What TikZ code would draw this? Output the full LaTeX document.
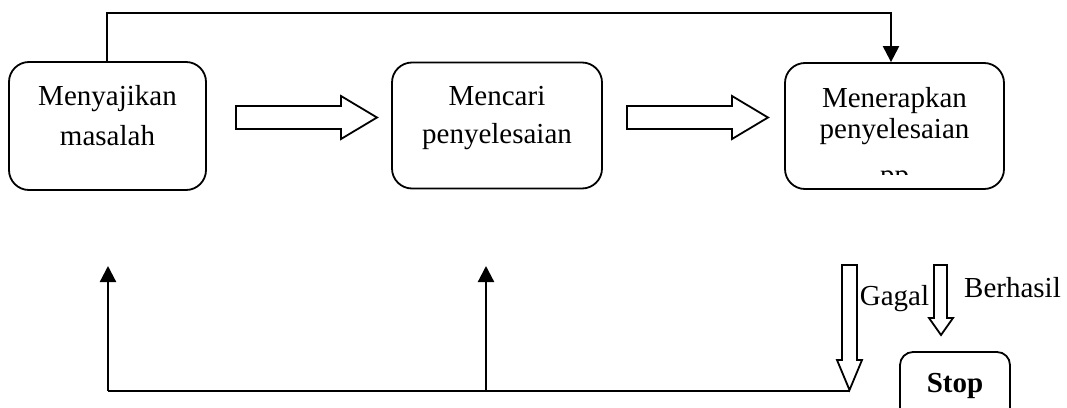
\documentclass[tikz,border=0pt]{standalone}
\usepackage{fontspec}
\setmainfont{Liberation Serif}
\usetikzlibrary{arrows.meta}
\tikzset{
  box/.style={draw, line width=1.8pt, rounded corners=20pt, inner sep=0pt, fill=white},
  smallbox/.style={draw, line width=1.8pt, rounded corners=13pt, inner sep=0pt, fill=white},
  txt/.style={anchor=base, inner sep=0pt, font=\fontsize{29}{34}\selectfont},
  conn/.style={line width=2.2pt, -{Triangle[width=16pt,length=16pt]}},
  line/.style={line width=2.2pt},
  blk/.style={draw, line width=1.8pt, fill=white, line join=miter}
}
\begin{document}
\begin{tikzpicture}[x=1pt,y=-1pt]
\useasboundingbox (0,0) rectangle (1067,407);
% boxes
\node[box, minimum width=197pt, minimum height=128pt] (b1) at (107.5,126) {};
\node[box, minimum width=210pt, minimum height=126pt] (b2) at (497,125.5) {};
\node[box, minimum width=219pt, minimum height=126pt] (b3) at (894.5,126) {};
\node[smallbox, minimum width=110pt, minimum height=88pt] (stop) at (955,396) {};
% texts
\node[txt] (b1a) at (107.5,105) {Menyajikan};
\node[txt] (b1b) at (107.5,145) {masalah};
\node[txt] (b2a) at (497,105) {Mencari};
\node[txt] (b2b) at (497,143) {penyelesaian};
\node[txt] (b3a) at (894.5,107) {Menerapkan};
\node[txt] (b3b) at (894.5,138) {penyelesaian};
\begin{scope}
\clip (840,160) rectangle (950,174);
\node[txt] (b3c) at (894.5,184) {pp};
\end{scope}
\node[txt] (stopt) at (955,392) {\bfseries Stop};
\node[txt] (gagal) at (894.5,305) {Gagal};
\node[txt] (berhasil) at (1012.5,297) {Berhasil};
% block arrows (horizontal)
\draw[blk] (236,106) -- (341,106) -- (341,96) -- (377,117.5) -- (341,139) -- (341,129) -- (236,129) -- cycle;
\draw[blk] (627,106) -- (732,106) -- (732,96) -- (768,117.5) -- (732,139) -- (732,129) -- (627,129) -- cycle;
% block arrows (vertical)
\draw[blk] (842,265) -- (857,265) -- (857,360) -- (862,360) -- (849.5,390) -- (837,360) -- (842,360) -- cycle;
\draw[blk] (934,265) -- (947,265) -- (947,318) -- (953,318) -- (941,335) -- (929,318) -- (934,318) -- cycle;
% top connector
\coordinate (tl) at (107,13);
\coordinate (tr) at (891,13);
\draw[conn] (b1.north -| tl) -- (tl) -- (tr) -- (tr |- b3.north);
% bottom connectors
\coordinate (bl) at (108,391);
\coordinate (bm) at (486,391);
\coordinate (br) at (849.5,391);
\coordinate (ul) at (108,266);
\coordinate (um) at (486,266);
\draw[line] (br) -- (bl);
\draw[conn] (bl) -- (ul);
\draw[conn] (bm) -- (um);
\end{tikzpicture}
\end{document}
